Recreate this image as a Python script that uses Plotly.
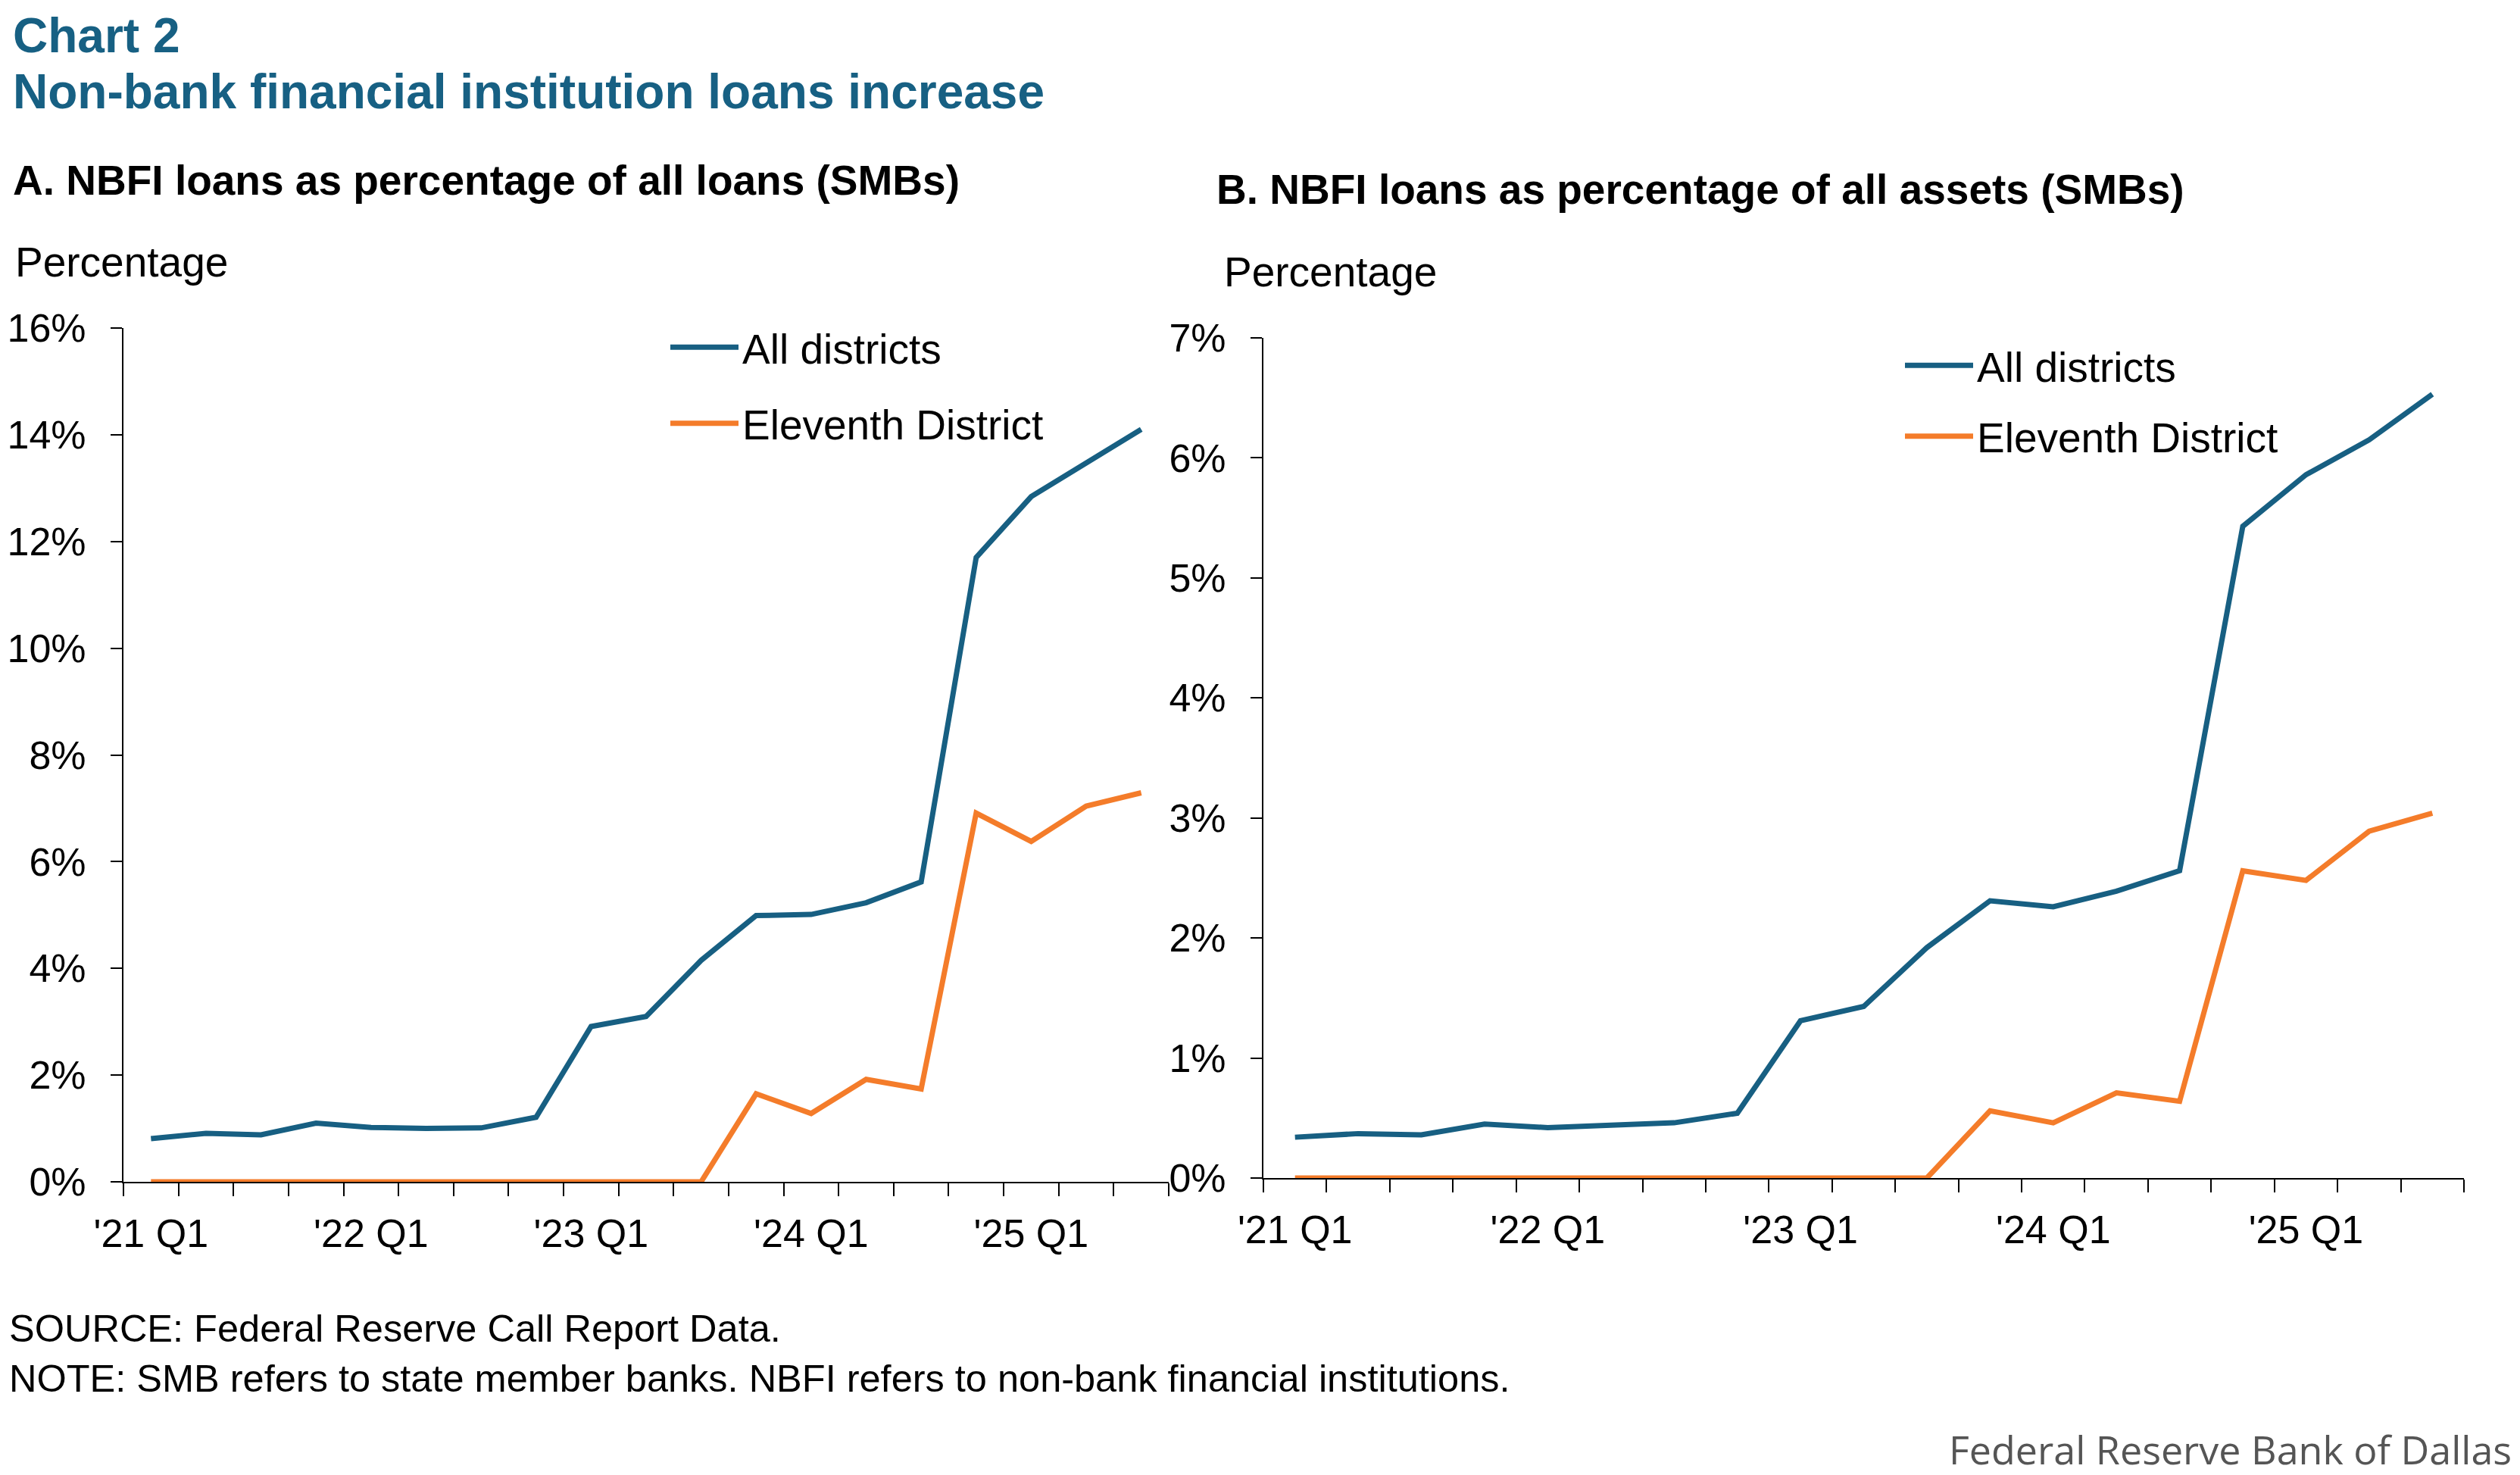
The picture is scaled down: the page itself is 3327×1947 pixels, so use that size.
import plotly.graph_objects as go

W, H = 3327, 1947
OFF = 8  # page body margin compensation

quarters = ["'21 Q1", "'21 Q2", "'21 Q3", "'21 Q4",
            "'22 Q1", "'22 Q2", "'22 Q3", "'22 Q4",
            "'23 Q1", "'23 Q2", "'23 Q3", "'23 Q4",
            "'24 Q1", "'24 Q2", "'24 Q3", "'24 Q4",
            "'25 Q1", "'25 Q2", "'25 Q3"]

loans_all = [0.81, 0.91, 0.88, 1.10, 1.02, 1.00, 1.01, 1.21, 2.91, 3.10,
             4.15, 4.99, 5.01, 5.23, 5.62, 11.70, 12.84, 13.46, 14.10]
loans_11 = [0, 0, 0, 0, 0, 0, 0, 0, 0, 0,
            0, 1.65, 1.28, 1.92, 1.74, 6.91, 6.38, 7.04, 7.29]

assets_all = [0.34, 0.37, 0.36, 0.45, 0.42, 0.44, 0.46, 0.54, 1.31, 1.43,
              1.92, 2.31, 2.26, 2.39, 2.56, 5.43, 5.86, 6.15, 6.53]
assets_11 = [0, 0, 0, 0, 0, 0, 0, 0, 0, 0,
             0, 0.56, 0.46, 0.71, 0.64, 2.56, 2.48, 2.89, 3.04]

left_ticks = [0, 2, 4, 6, 8, 10, 12, 14, 16]
right_ticks = [0, 1, 2, 3, 4, 5, 6, 7]

BLUE = "#175f82"
ORANGE = "#f47c2a"
TITLE_BLUE = "#176083"
FONT = "Arial, Liberation Sans, sans-serif"

idx = list(range(len(quarters)))
label_idx = [i for i, q in enumerate(quarters) if q.endswith("Q1")]
label_txt = [quarters[i] for i in label_idx]


def px(x):
    return (x - OFF) / W


def py(y):
    return 1 - (y - OFF) / H


fig = go.Figure()

LW = 7
fig.add_trace(go.Scatter(x=idx, y=loans_all, name="All districts", mode="lines",
                         line=dict(color=BLUE, width=LW), xaxis="x", yaxis="y",
                         legend="legend", legendgroup="a1", cliponaxis=False))
fig.add_trace(go.Scatter(x=idx, y=loans_11, name="Eleventh District", mode="lines",
                         line=dict(color=ORANGE, width=LW), xaxis="x", yaxis="y",
                         legend="legend", legendgroup="a2", cliponaxis=False))
fig.add_trace(go.Scatter(x=idx, y=assets_all, name="All districts", mode="lines",
                         line=dict(color=BLUE, width=LW), xaxis="x2", yaxis="y2",
                         legend="legend2", legendgroup="b1", cliponaxis=False))
fig.add_trace(go.Scatter(x=idx, y=assets_11, name="Eleventh District", mode="lines",
                         line=dict(color=ORANGE, width=LW), xaxis="x2", yaxis="y2",
                         legend="legend2", legendgroup="b2", cliponaxis=False))


def xaxis_cfg(domain, anchor):
    return dict(
        domain=domain, anchor=anchor, range=[-0.5, len(quarters) - 0.5],
        tickmode="array", tickvals=label_idx, ticktext=label_txt,
        ticks="", showgrid=False, zeroline=False, automargin=False,
        showline=True, linecolor="black", linewidth=2,
        tickfont=dict(size=52, color="black", family=FONT),
        ticklabelstandoff=22,
        minor=dict(tickmode="array", tickvals=[i - 0.5 for i in range(len(quarters) + 1)],
                   ticks="outside", ticklen=17, tickwidth=2, tickcolor="black",
                   showgrid=False),
        fixedrange=True,
    )


def yaxis_cfg(domain, anchor, ticks, maxv):
    return dict(
        domain=domain, anchor=anchor, range=[0, maxv],
        tickmode="array", tickvals=ticks, ticktext=[f"{t}%" for t in ticks],
        ticks="outside", ticklen=15, tickwidth=2, tickcolor="black",
        showgrid=False, zeroline=False, automargin=False,
        showline=True, linecolor="black", linewidth=2,
        tickfont=dict(size=52, color="black", family=FONT),
        ticklabelstandoff=22,
        fixedrange=True,
    )


fig.update_layout(
    width=W, height=H,
    margin=dict(l=0, r=0, t=0, b=0, pad=0, autoexpand=False),
    paper_bgcolor="white", plot_bgcolor="white",
    font=dict(family=FONT, color="black"),
    xaxis=xaxis_cfg([px(163), px(1543)], "y"),
    yaxis=yaxis_cfg([py(1560), py(433)], "x", left_ticks, 16),
    xaxis2=xaxis_cfg([px(1668), px(3253)], "y2"),
    yaxis2=yaxis_cfg([py(1555), py(446)], "x2", right_ticks, 7),
    legend=dict(x=px(880), y=py(416), xanchor="left", yanchor="top",
                bgcolor="rgba(0,0,0,0)", font=dict(size=55, family=FONT, color="black"),
                tracegroupgap=26, itemwidth=90),
    legend2=dict(x=px(2510), y=py(440), xanchor="left", yanchor="top",
                 bgcolor="rgba(0,0,0,0)", font=dict(size=55, family=FONT, color="black"),
                 tracegroupgap=19, itemwidth=90),
    showlegend=True,
)

annots = [
    dict(text="<b>Chart 2</b>", x=px(15), y=py(47), size=64, color=TITLE_BLUE),
    dict(text="<b>Non-bank financial institution loans increase</b>", x=px(15), y=py(121),
         size=64, color=TITLE_BLUE),
    dict(text="<b>A. NBFI loans as percentage of all loans (SMBs)</b>", x=px(15), y=py(238),
         size=55, color="black"),
    dict(text="<b>B. NBFI loans as percentage of all assets (SMBs)</b>", x=px(1604), y=py(250),
         size=55, color="black"),
    dict(text="Percentage", x=px(18), y=py(346), size=55, color="black"),
    dict(text="Percentage", x=px(1614), y=py(359), size=55, color="black"),
    dict(text="SOURCE: Federal Reserve Call Report Data.", x=px(10), y=py(1753),
         size=50.5, color="black"),
    dict(text="NOTE: SMB refers to state member banks. NBFI refers to non-bank financial institutions.",
         x=px(10), y=py(1819), size=50.5, color="black"),
]
for a in annots:
    fig.add_annotation(text=a["text"], x=a["x"], y=a["y"], xref="paper", yref="paper",
                       xanchor="left", yanchor="middle", showarrow=False,
                       font=dict(size=a["size"], color=a["color"], family=FONT))

fig.add_annotation(text="Federal Reserve Bank of Dallas", x=px(3318), y=py(1912),
                   xref="paper", yref="paper", xanchor="right", yanchor="middle",
                   showarrow=False, font=dict(size=52, color="#555555", family="Open Sans, sans-serif"))

fig.write_html("out.html")
